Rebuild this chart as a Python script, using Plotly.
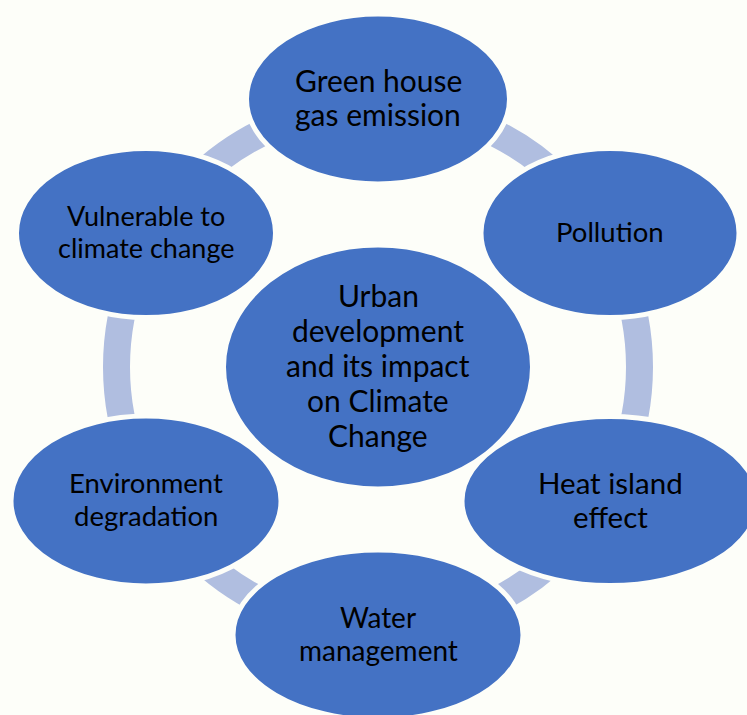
import plotly.graph_objects as go

# ---- data ----
center_label = ["Urban", "development", "and its impact", "on Climate", "Change"]
node_labels = [
    ["Green house", "gas emission"],
    ["Pollution"],
    ["Heat island", "effect"],
    ["Water", "management"],
    ["Environment", "degradation"],
    ["Vulnerable to", "climate change"],
]

# ---- layout (pixel space) ----
W, H = 747, 715
CX, CY = 378, 367
dx, dy = 232, 134
node_pos = [(CX, CY - 2 * dy), (CX + dx, CY - dy), (CX + dx, CY + dy),
            (CX, CY + 2 * dy), (CX - dx, CY + dy), (CX - dx, CY - dy)]
node_half = [(131.5, 85), (129, 84.5), (148, 84.5), (145, 85), (135, 85), (129.5, 84.5)]
node_font = [30, 27.5, 29.5, 28, 27.5, 27]
node_lsp = [34, 34, 34, 33, 33, 32]
center_half = (153.5, 121)
center_font = 30
center_lsp = 35
TEXT_DY = -2

BLUE = "#4472C4"
RING = "#B0BEE0"
BG = "#FDFEF9"
FONT = "Lato"

fig = go.Figure()
shapes = []
ring_r = 261.5
shapes.append(dict(type="circle", xref="x", yref="y",
                   x0=CX - ring_r, x1=CX + ring_r, y0=CY - ring_r, y1=CY + ring_r,
                   line=dict(color=RING, width=27), fillcolor="rgba(0,0,0,0)", layer="below"))
for (x, y), (a, b) in zip(node_pos, node_half):
    shapes.append(dict(type="circle", xref="x", yref="y",
                       x0=x - a, x1=x + a, y0=y - b, y1=y + b,
                       line=dict(color=BG, width=5), fillcolor=BLUE, layer="below"))
a, b = center_half
shapes.append(dict(type="circle", xref="x", yref="y",
                   x0=CX - a, x1=CX + a, y0=CY - b, y1=CY + b,
                   line=dict(color=BG, width=3), fillcolor=BLUE, layer="below"))

annotations = []


def add_lines(x, y, lines, fs, lsp):
    n = len(lines)
    for i, t in enumerate(lines):
        yy = y + TEXT_DY + (i - (n - 1) / 2) * lsp
        annotations.append(dict(x=x, y=yy, xref="x", yref="y", text=t, showarrow=False,
                                font=dict(family=FONT, size=fs, color="black"),
                                xanchor="center", yanchor="middle"))


for (x, y), lines, fs, lsp in zip(node_pos, node_labels, node_font, node_lsp):
    add_lines(x, y, lines, fs, lsp)
add_lines(CX, CY, center_label, center_font, center_lsp)

fig.update_layout(
    width=W, height=H, margin=dict(l=0, r=0, t=0, b=0),
    paper_bgcolor=BG, plot_bgcolor=BG,
    xaxis=dict(range=[0, W], visible=False, fixedrange=True),
    yaxis=dict(range=[H, 0], visible=False, fixedrange=True),
    shapes=shapes, annotations=annotations, showlegend=False,
)
fig.write_html("out.html", config={"displayModeBar": False},
               post_script="document.body.style.margin='0';document.body.style.overflow='hidden';"
                           "document.body.style.background='" + BG + "';")
